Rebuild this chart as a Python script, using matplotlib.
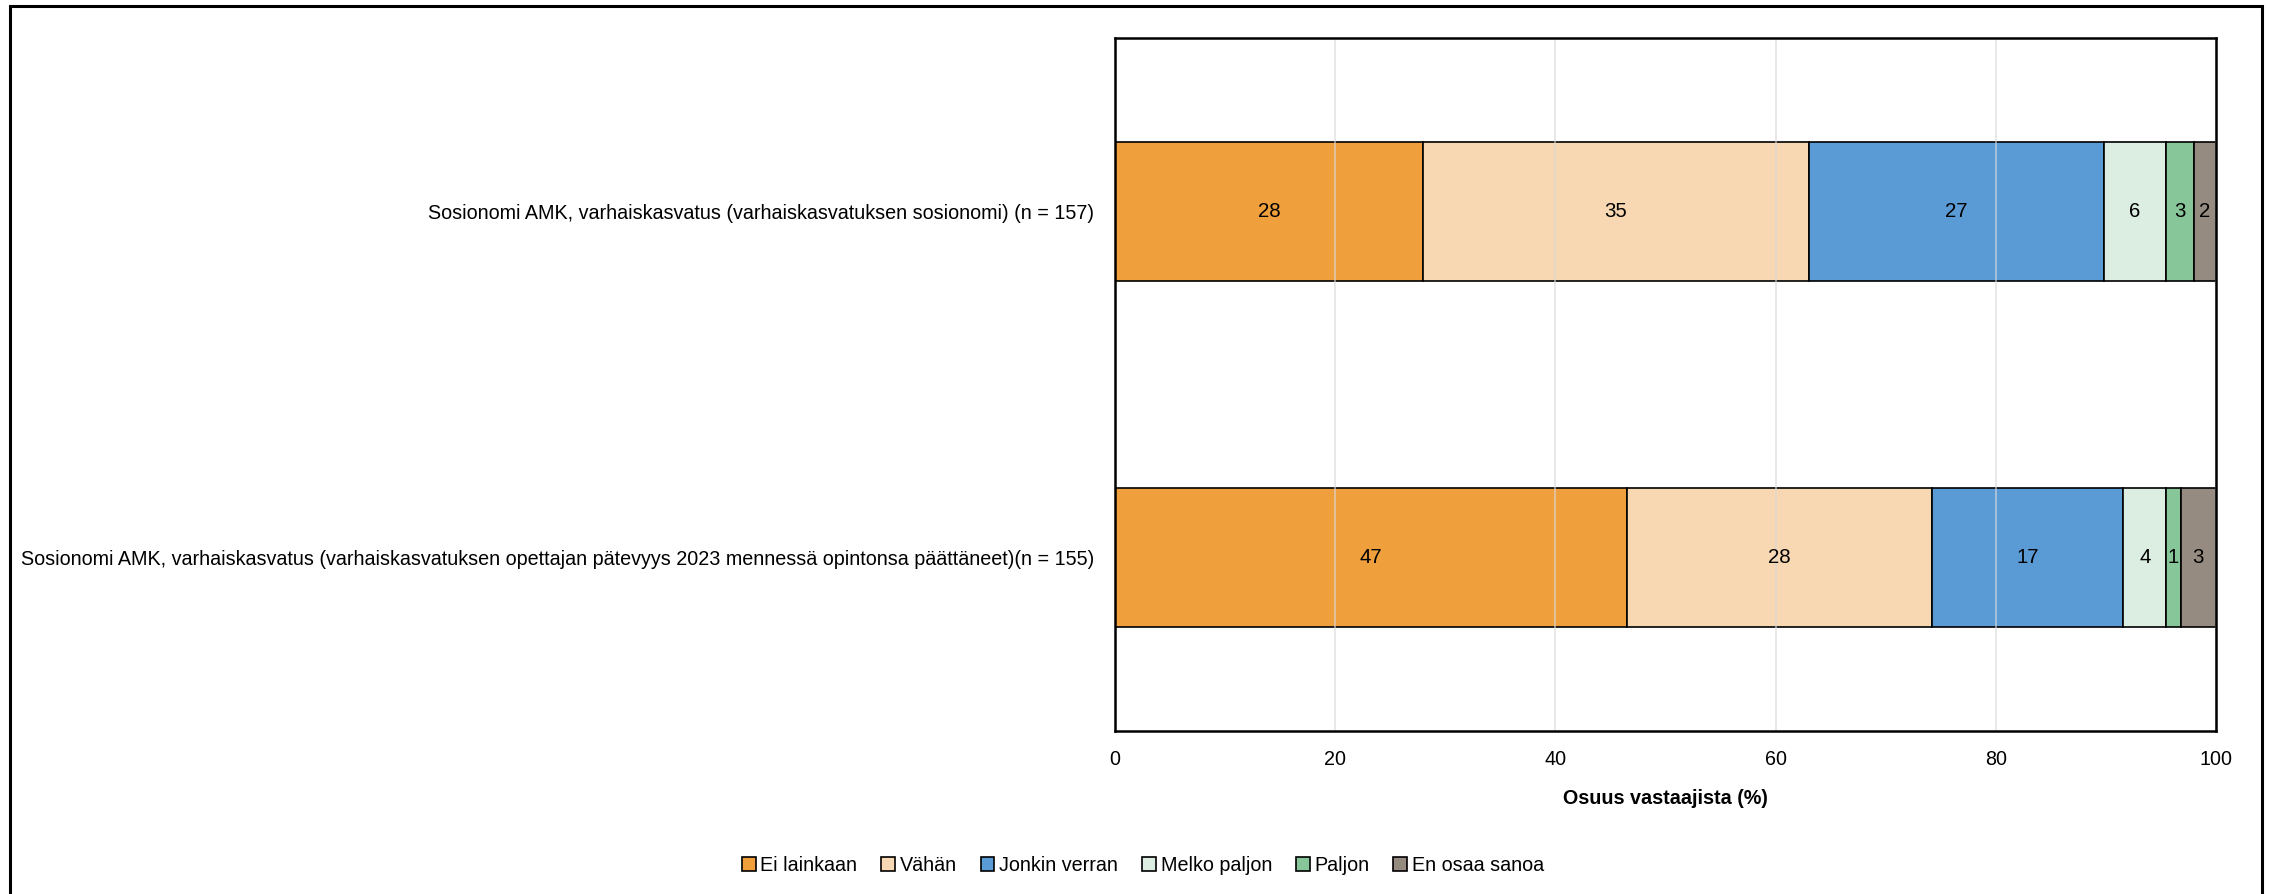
import numpy as np
import matplotlib.pyplot as plt
from matplotlib.patches import Rectangle

# --- data ---
groups = [
    "Sosionomi AMK, varhaiskasvatus (varhaiskasvatuksen sosionomi) (n = 157)",
    "Sosionomi AMK, varhaiskasvatus (varhaiskasvatuksen opettajan pätevyys 2023 mennessä opintonsa päättäneet)(n = 155)",
]
answers = ["Ei lainkaan", "Vähän", "Jonkin verran", "Melko paljon", "Paljon", "En osaa sanoa"]
ei_lainkaan = [28.0, 46.5]
vahan = [35.0, 27.7]
jonkin_verran = [26.8, 17.4]
melko_paljon = [5.7, 3.9]
paljon = [2.5, 1.3]
en_osaa = [2.0, 3.2]
labels_shown = [[28, 35, 27, 6, 3, 2], [47, 28, 17, 4, 1, 3]]

colors = ['#EFA03D', '#F7D8B2', '#5B9BD5', '#DCEDE2', '#87C699', '#968B80']

plt.rcParams['font.family'] = ['Liberation Sans', 'DejaVu Sans']
fs = 14.2

fig = plt.figure(figsize=(22.7, 8.94), dpi=100)
ax = fig.add_axes([0.4912, 0.1823, 0.4850, 0.7752])

series = [ei_lainkaan, vahan, jonkin_verran, melko_paljon, paljon, en_osaa]
ypos = np.arange(len(groups))
left = np.zeros(len(groups))
for k, vals in enumerate(series):
    vals = np.array(vals)
    ax.barh(ypos, vals, left=left, height=0.40, color=colors[k], edgecolor='black',
            linewidth=1.2, label=answers[k], zorder=2)
    for i in range(len(groups)):
        ax.text(left[i] + vals[i] / 2, ypos[i], str(labels_shown[i][k]),
                ha='center', va='center', fontsize=fs + 0.5, zorder=4)
    left += vals

ax.set_xlim(0, 100)
ax.set_ylim(1.5, -0.5)
ax.set_xticks([0, 20, 40, 60, 80, 100])
ax.set_yticks(ypos)
ax.set_yticklabels(groups, fontsize=fs)
ax.tick_params(axis='both', length=0, labelsize=fs)
ax.tick_params(axis='y', pad=15)
ax.tick_params(axis='x', pad=14)
ax.grid(axis='x', color='#D9D9D9', linewidth=1.2, zorder=3, alpha=0.7)
ax.set_axisbelow(False)
for s in ax.spines.values():
    s.set_linewidth(1.8)
    s.set_color('black')
    s.set_zorder(5)
ax.set_xlabel('Osuus vastaajista (%)', fontsize=fs, fontweight='bold', labelpad=14)

fig.legend(loc='center', bbox_to_anchor=(0.5035, 0.032), ncol=6, frameon=False,
           fontsize=fs, handlelength=0.7, handleheight=0.7, handletextpad=0.25,
           columnspacing=1.2)

# outer frame around the whole chart
fig.patches.append(Rectangle((10 / 2270, -0.01), 2252 / 2270, 1 - 6 / 894 + 0.01,
                             transform=fig.transFigure, fill=False,
                             edgecolor='black', linewidth=2.2))

plt.savefig("out.png", dpi=100)
plt.close()
